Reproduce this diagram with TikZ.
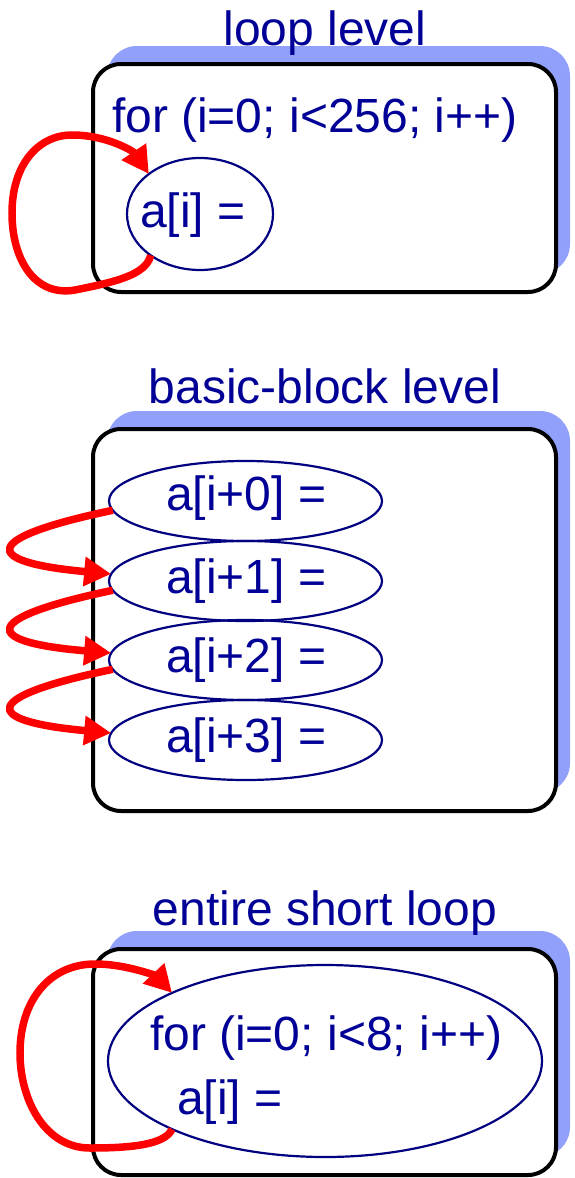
\documentclass[tikz,border=0pt]{standalone}
\usepackage{fontspec}
\setmainfont{Liberation Sans}
\usetikzlibrary{arrows.meta,shapes.geometric}
\definecolor{navytext}{RGB}{0,0,150}
\definecolor{navyline}{RGB}{0,0,128}
\definecolor{shadowblue}{RGB}{145,160,250}
\definecolor{arrowred}{RGB}{255,0,0}
\begin{document}
\begin{tikzpicture}[x=1pt,y=-1pt,
  lbl/.style={inner sep=0pt, outer sep=0pt, text=navytext, font=\fontsize{48}{58}\selectfont},
  panelshadow/.style={fill=shadowblue, draw=none, rounded corners=30pt},
  panelbox/.style={draw=black, line width=4pt, fill=white, rounded corners=28pt},
  stmt/.style={ellipse, draw=navyline, line width=2.2pt, inner sep=0pt, outer sep=0pt},
  flow/.style={draw=arrowred, line width=7.5pt, -{Triangle[length=27pt,width=28pt]}}
]
\useasboundingbox (0,0) rectangle (574,1178);

% ---------- panel 1: loop level ----------
\fill[panelshadow] (107,46) rectangle (570,274);
\draw[panelbox] (93,64) rectangle (556,292);
\node[lbl, anchor=base] (t1) at (325,45) {loop level};
\node[lbl, anchor=base west] (f1) at (112,132) {for (i=0; i<256; i++)};
\node[stmt, minimum width=146pt, minimum height=112pt] (e1) at (200,214) {};
\node[lbl, anchor=base west] (a1) at (140,227) {a[i] =};
\draw[flow] (e1.220) .. controls (146,275) and (115,282) .. (75,290)
  .. controls (35,297) and (12,260) .. (12,213)
  .. controls (12,165) and (38,135) .. (72,135)
  .. controls (108,135) and (134,152) .. (e1.142);

% ---------- panel 2: basic-block level ----------
\fill[panelshadow] (107,411) rectangle (570,793);
\draw[panelbox] (93,429) rectangle (556,811);
\node[lbl, anchor=base] (t2) at (325,403) {basic-block level};
\node[stmt, minimum width=273pt, minimum height=80pt] (b0) at (245.5,501) {};
\node[stmt, minimum width=273pt, minimum height=80pt] (b1) at (245.5,581) {};
\node[stmt, minimum width=273pt, minimum height=80pt] (b2) at (245.5,660) {};
\node[stmt, minimum width=273pt, minimum height=80pt] (b3) at (245.5,740) {};
\node[lbl, anchor=base west] (s0) at (166,510) {a[i+0] =};
\node[lbl, anchor=base west] (s1) at (166,593) {a[i+1] =};
\node[lbl, anchor=base west] (s2) at (166,672) {a[i+2] =};
\node[lbl, anchor=base west] (s3) at (166,752) {a[i+3] =};
\draw[flow] (b0.184) .. controls (-20,538) and (-20,562) .. (b1.177);
\draw[flow] (b1.184) .. controls (-20,618) and (-20,642) .. (b2.177);
\draw[flow] (b2.184) .. controls (-20,697) and (-20,721) .. (b3.177);

% ---------- panel 3: entire short loop ----------
\fill[panelshadow] (107,931) rectangle (570,1157);
\draw[panelbox] (93,949) rectangle (556,1175);
\node[lbl, anchor=base] (t3) at (325,925) {entire short loop};
\node[stmt, minimum width=434pt, minimum height=192pt] (e3) at (325,1061) {};
\node[lbl, anchor=base west] (f3) at (150,1050) {for (i=0; i<8; i++)};
\node[lbl, anchor=base west] (a3) at (177,1114) {a[i] =};
\draw[flow] (e3.204) .. controls (165,1145) and (130,1148) .. (90,1148)
  .. controls (45,1148) and (20,1100) .. (20,1053)
  .. controls (20,1000) and (50,964) .. (95,964)
  .. controls (128,964) and (157,977) .. (e3.156);
\end{tikzpicture}
\end{document}
